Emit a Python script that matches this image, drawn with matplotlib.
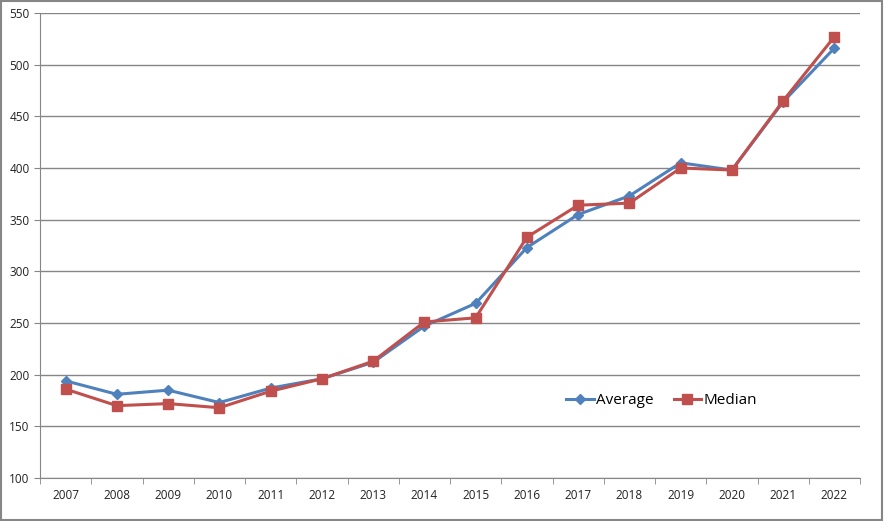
import matplotlib
matplotlib.use("Agg")
import matplotlib.pyplot as plt
from matplotlib.patches import Rectangle

# Données
annees = ["2007", "2008", "2009", "2010", "2011", "2012", "2013", "2014",
          "2015", "2016", "2017", "2018", "2019", "2020", "2021", "2022"]
moyenne = [194, 181, 185, 173, 187, 196, 212, 247,
           269, 323, 355, 373, 405, 398, 464, 516]
mediane = [186, 170, 172, 168, 184, 196, 213, 251,
           255, 333, 364, 366, 400, 398, 465, 527]

BLEU = "#4F81BD"
ROUGE = "#C0504D"
GRIS = "#868686"

plt.rcParams["font.family"] = ["Open Sans", "DejaVu Sans"]

fig = plt.figure(figsize=(8.84, 5.21), dpi=100)
ax = fig.add_axes([40 / 884, 1 - 478 / 521, 820 / 884, 465 / 521])

x = list(range(len(annees)))
ax.plot(x, moyenne, color=BLEU, lw=2.2, marker="D", ms=5.5, label="Average", zorder=3)
ax.plot(x, mediane, color=ROUGE, lw=2.2, marker="s", ms=7, label="Median", zorder=4)

ax.set_xlim(-0.5, len(annees) - 0.5)
ax.set_ylim(100, 550)
ax.set_yticks(range(100, 551, 50))
ax.yaxis.grid(True, color=GRIS, lw=1, zorder=0)

# axe des catégories : graduations entre les années
ax.set_xticks(x)
ax.set_xticklabels(annees)
ax.set_xticks([i - 0.5 for i in range(len(annees) + 1)], minor=True)
ax.tick_params(axis="x", which="major", length=0, pad=8, labelsize=8.5, colors="#222222")
ax.tick_params(axis="x", which="minor", length=4, color=GRIS)
ax.tick_params(axis="y", length=4, color=GRIS, labelsize=8.5, labelcolor="#222222")

for s in ["top", "right"]:
    ax.spines[s].set_visible(False)
for s in ["left", "bottom"]:
    ax.spines[s].set_color(GRIS)

ax.legend(loc="upper left", bbox_to_anchor=(0.625, 0.212), ncol=2, frameon=False,
          fontsize=11, handlelength=1.8, columnspacing=1.3, handletextpad=0.15)

# cadre extérieur
fig.patches.append(Rectangle((0.001, 0.002), 0.997, 0.996, transform=fig.transFigure,
                             fill=False, edgecolor=GRIS, lw=1.5))

fig.savefig("out.png", dpi=100, facecolor="white")
